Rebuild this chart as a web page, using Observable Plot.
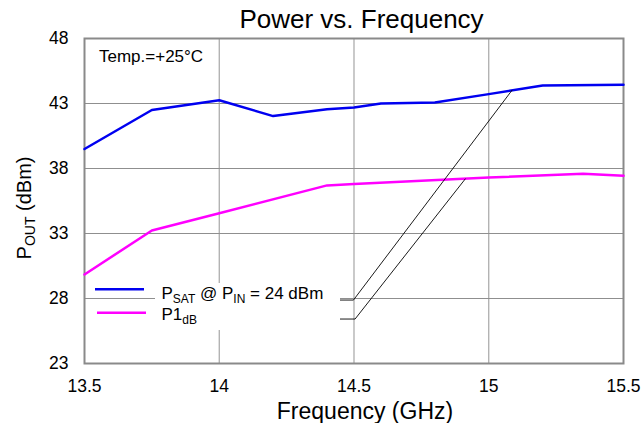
<!DOCTYPE html>
<html>
<head>
<meta charset="utf-8">
<script src="https://cdn.jsdelivr.net/npm/d3@7"></script>
<script src="https://cdn.jsdelivr.net/npm/@observablehq/plot@0.6"></script>
<style>
  html, body { margin: 0; padding: 0; background: white; }
  #wrap { width: 643px; height: 423px; position: relative; font-family: "Liberation Sans", Arial, sans-serif; }
  #title { position: absolute; top: 0; left: 0; height: 30px; box-sizing: border-box; padding-top: 6px;
           line-height: 26px; font-size: 26px; width: 643px; text-align: center; padding-left: 80px;
           color: #000; white-space: nowrap; z-index: 2; }
  #chart { position: absolute; top: 20px; left: 0; }
  svg { display: block; }
</style>
</head>
<body>
<div id="wrap">
  <div id="title">Power vs. Frequency</div>
  <div id="chart"></div>
</div>
<script>
// ---- data ----
const freqSat = [13.5, 13.75, 14.0, 14.2, 14.4, 14.5, 14.6, 14.8, 15.0, 15.2, 15.5];
const psat    = [39.5, 42.5, 43.25, 42.03, 42.55, 42.7, 43.0, 43.07, 43.72, 44.38, 44.45];
const freqP1  = [13.5, 13.75, 14.0, 14.4, 14.5, 15.0, 15.35, 15.5];
const p1dB    = [29.85, 33.23, 34.56, 36.7, 36.8, 37.3, 37.6, 37.45];
const leaderSatX = [14.449, 14.498, 15.086];
const leaderSatY = [27.88, 27.88, 44.01];
const leaderP1X  = [14.449, 14.504, 14.913];
const leaderP1Y  = [26.42, 26.42, 37.2];
const xTicks = [13.5, 14, 14.5, 15, 15.5];
const yTicks = [23, 28, 33, 38, 43, 48];
const xGrid = [14, 14.5, 15];
const yGrid = [28, 33, 38, 43];

const zip = (xs, ys) => xs.map((x, i) => ({x, y: ys[i]}));
const sat = zip(freqSat, psat);
const p1 = zip(freqP1, p1dB);
const leadSat = zip(leaderSatX, leaderSatY);
const leadP1 = zip(leaderP1X, leaderP1Y);

const FONT = "'Liberation Sans', Arial, sans-serif";
const OFF = 20; // svg top offset in page

const svg = Plot.plot({
  width: 643, height: 403,
  marginLeft: 84, marginRight: 20, marginTop: 18, marginBottom: 60,
  style: {fontFamily: FONT, background: "transparent", color: "black"},
  x: {domain: [13.5, 15.5]},
  y: {domain: [23, 48]},
  marks: [
    Plot.gridX(xGrid, {stroke: "#a6a6a6", strokeOpacity: 1, strokeWidth: 1.2}),
    Plot.gridY(yGrid, {stroke: "#8f8f8f", strokeOpacity: 1, strokeWidth: 1.2}),
    Plot.frame({stroke: "#8a8a8a", strokeWidth: 2}),
    Plot.axisX(xTicks, {tickSize: 0, tickPadding: 16, fontSize: 17.5, label: null, tickFormat: d => String(d)}),
    Plot.axisY(yTicks, {tickSize: 0, tickPadding: 16, fontSize: 17.5, label: null, tickFormat: d => String(d)}),
    Plot.line(p1, {x: "x", y: "y", stroke: "#ff00ff", strokeWidth: 2.5}),
    Plot.line(sat, {x: "x", y: "y", stroke: "#0000f0", strokeWidth: 2.5}),
    Plot.line(leadSat, {x: "x", y: "y", stroke: "#000", strokeWidth: 0.9}),
    Plot.line(leadP1, {x: "x", y: "y", stroke: "#000", strokeWidth: 0.9})
  ]
});
document.getElementById("chart").appendChild(svg);

const s = d3.select(svg);
const Y = v => v - OFF; // page y -> svg y
// temperature note
s.append("text").attr("x", 99).attr("y", Y(62)).attr("font-size", 17).attr("font-family", FONT)
  .attr("text-anchor", "start").attr("fill", "#000").text("Temp.=+25°C");

// legend
const lg = s.append("g").attr("font-family", FONT).attr("fill", "#000").attr("text-anchor", "start");
lg.append("rect").attr("x", 155).attr("y", Y(283)).attr("width", 185).attr("height", 47).attr("fill", "white");
lg.append("line").attr("x1", 95).attr("x2", 144).attr("y1", Y(289.3)).attr("y2", Y(289.3))
  .attr("stroke", "#0000f0").attr("stroke-width", 2.5);
lg.append("line").attr("x1", 97).attr("x2", 146).attr("y1", Y(312.7)).attr("y2", Y(312.7))
  .attr("stroke", "#ff00ff").attr("stroke-width", 2.5);
const t1 = lg.append("text").attr("x", 161.5).attr("y", Y(299)).attr("font-size", 17);
t1.append("tspan").text("P");
t1.append("tspan").attr("font-size", 12).attr("dy", 4).text("SAT");
t1.append("tspan").attr("dy", -4).text(" @ P");
t1.append("tspan").attr("font-size", 12).attr("dy", 4).text("IN");
t1.append("tspan").attr("dy", -4).text(" = 24 dBm");
const t2 = lg.append("text").attr("x", 161.5).attr("y", Y(319.5)).attr("font-size", 17);
t2.append("tspan").text("P1");
t2.append("tspan").attr("font-size", 12).attr("dy", 4).text("dB");

// x axis label
s.append("text").attr("x", 365).attr("y", Y(419)).attr("text-anchor", "middle")
  .attr("font-size", 23).attr("font-family", FONT).attr("fill", "#000").text("Frequency (GHz)");

// y axis label
const yl = s.append("text").attr("transform", `translate(31,${Y(208)}) rotate(-90)`)
  .attr("text-anchor", "middle").attr("font-size", 20).attr("font-family", FONT).attr("fill", "#000");
yl.append("tspan").text("P");
yl.append("tspan").attr("font-size", 14).attr("dy", 4).text("OUT");
yl.append("tspan").attr("dy", -4).text(" (dBm)");
</script>
</body>
</html>
